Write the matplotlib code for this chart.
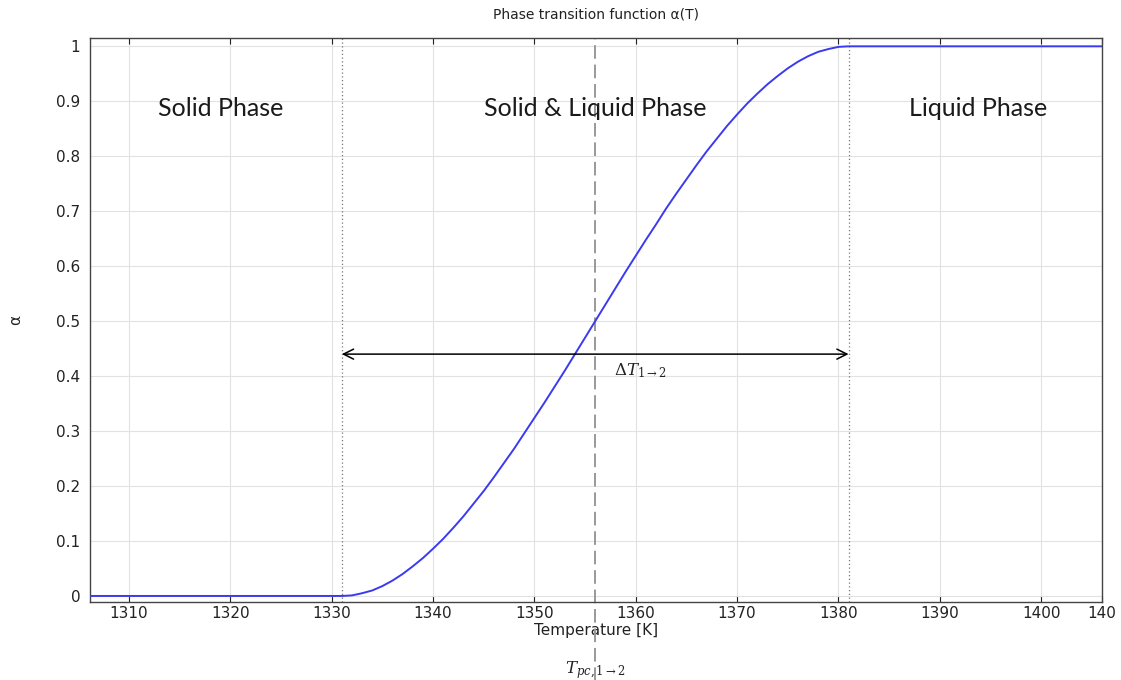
#Import Modules
import numpy as np
import matplotlib
matplotlib.use("Agg")
import matplotlib.pyplot as plt

#Phase transition data (temperature in K, alpha)
temperature = [1306, 1331, 1332, 1333, 1334, 1335, 1336, 1337, 1338, 1339, 1340,
               1341, 1342, 1343, 1344, 1345, 1346, 1347, 1348, 1349, 1350,
               1351, 1352, 1353, 1354, 1355, 1356, 1357, 1358, 1359, 1360,
               1361, 1362, 1363, 1364, 1365, 1366, 1367, 1368, 1369, 1370,
               1371, 1372, 1373, 1374, 1375, 1376, 1377, 1378, 1379, 1380,
               1381, 1406]
alpha = [0.0, 0.0, 0.001, 0.005, 0.010, 0.018, 0.028, 0.040, 0.054, 0.069, 0.086,
         0.104, 0.124, 0.145, 0.168, 0.191, 0.216, 0.242, 0.268, 0.296, 0.324,
         0.352, 0.381, 0.410, 0.440, 0.470, 0.500, 0.530, 0.560, 0.590, 0.619,
         0.648, 0.676, 0.705, 0.732, 0.758, 0.784, 0.809, 0.832, 0.855, 0.876,
         0.896, 0.914, 0.931, 0.946, 0.960, 0.972, 0.982, 0.990, 0.995, 0.999,
         1.0, 1.0]

#Transition markers
t_start = 1331
t_end = 1381
t_pc = 1356
arrow_level = 0.44

#Phase region labels
phase_names = ["Solid Phase", "Solid & Liquid Phase", "Liquid Phase"]
phase_x = [1319, 1356, 1393.8]
phase_y = 0.887

#Axis ticks
x_ticks = [1310, 1320, 1330, 1340, 1350, 1360, 1370, 1380, 1390, 1400, 1406]
x_labels = ["1310", "1320", "1330", "1340", "1350", "1360", "1370", "1380", "1390", "1400", "140"]
y_ticks = [0, 0.1, 0.2, 0.3, 0.4, 0.5, 0.6, 0.7, 0.8, 0.9, 1]
y_labels = ["0", "0.1", "0.2", "0.3", "0.4", "0.5", "0.6", "0.7", "0.8", "0.9", "1"]

plt.rcParams["mathtext.fontset"] = "dejavuserif"

fig = plt.figure(figsize=(11.21, 6.80), dpi=100)
ax = fig.add_axes([0.0803, 0.1147, 0.9027, 0.8293])

#Curve
ax.plot(temperature, alpha, color="#3a3af0", lw=1.4, zorder=3)

#Region boundaries and phase change temperature
for t in [t_start, t_end]:
    ax.axvline(t, color="#777777", lw=0.9, ls=(0, (1, 2)), zorder=2)
ax.plot([t_pc, t_pc], [-0.14, 1], color="#999999", lw=1.4, ls=(0, (7, 3)),
        transform=ax.get_xaxis_transform(), clip_on=False, zorder=2)

#Transition width arrow
ax.annotate("", xy=(t_start, arrow_level), xytext=(t_end, arrow_level),
            arrowprops=dict(arrowstyle="<->", color="black", lw=1.1,
                            mutation_scale=18, shrinkA=0, shrinkB=0))
ax.text(1357.9, 0.41, r"$\Delta T_{1\rightarrow 2}$", fontsize=12,
        color="#222222", ha="left", va="center")
ax.text(t_pc, -0.12, r"$T_{pc,1\rightarrow 2}$", fontsize=12, color="#222222",
        ha="center", va="center", transform=ax.get_xaxis_transform())

#Phase labels
for name, px in zip(phase_names, phase_x):
    ax.text(px, phase_y, name, fontsize=18, family="Lato", color="#1a1a1a",
            ha="center", va="center")

#Axes styling
ax.set_xlim(1306.15, 1406)
ax.set_ylim(-0.011, 1.015)
ax.set_xticks(x_ticks)
ax.set_xticklabels(x_labels)
ax.set_yticks(y_ticks)
ax.set_yticklabels(y_labels)
ax.tick_params(axis="x", direction="in", top=True, labelsize=11,
               colors="#222222", length=4, pad=3)
ax.tick_params(axis="y", direction="in", length=0, labelsize=11,
               colors="#222222", pad=7)
ax.grid(True, color="#e2e2e2", lw=0.8)
ax.set_axisbelow(True)
for spine in ax.spines.values():
    spine.set_color("#444444")
    spine.set_linewidth(1.0)

ax.set_title("Phase transition function \u03b1(T)", fontsize=10, pad=14, color="#222222")
ax.set_xlabel("Temperature [K]", fontsize=11, labelpad=1, color="#222222")
ax.set_ylabel("\u03b1", fontsize=11, labelpad=24, color="#222222")

fig.savefig("out.png", dpi=100)
